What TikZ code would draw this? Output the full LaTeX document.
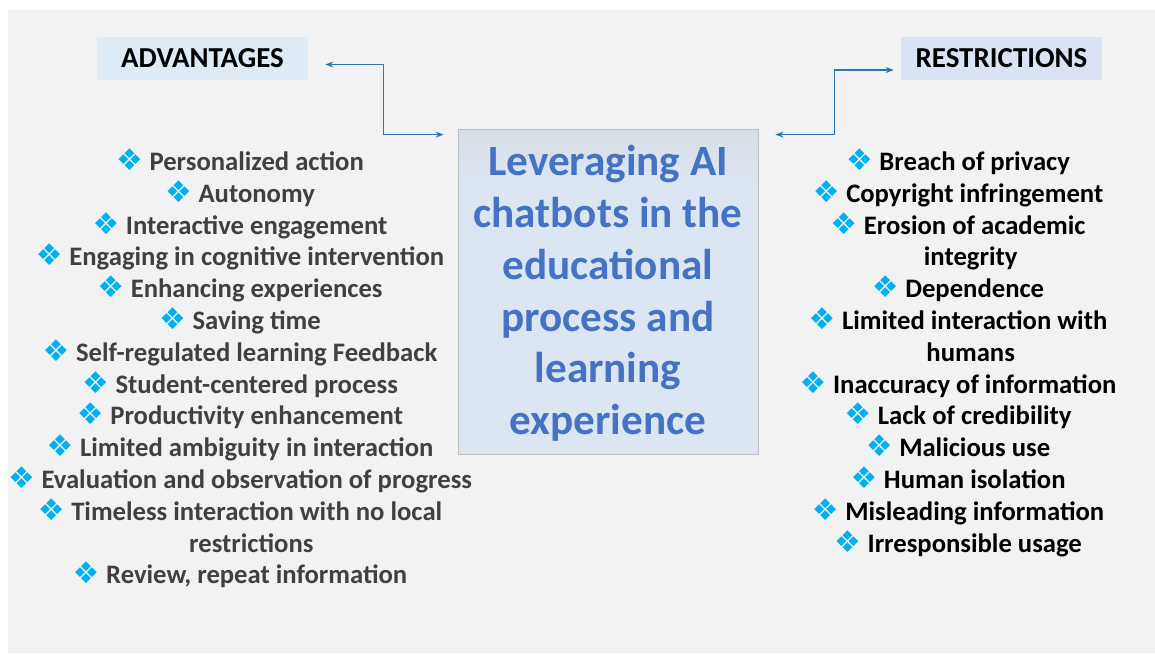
\documentclass[tikz,border=0pt]{standalone}
\usepackage{xcolor}
\usepackage{fontspec}
\setmainfont{Carlito}
\newfontfamily\dingfont{DejaVu Sans}
\usepackage{tikz}
\usetikzlibrary{positioning,arrows.meta}
\definecolor{canvas}{HTML}{F2F2F2}
\definecolor{linkblue}{HTML}{2E75B6}
\definecolor{titleblue}{HTML}{4472C4}
\definecolor{paleblue}{HTML}{DCE6F2}
\definecolor{headblue}{HTML}{DEEBF7}
\definecolor{headlilac}{HTML}{DAE3F3}
\definecolor{hubgray}{HTML}{C8C8C8}
\definecolor{hubedge}{HTML}{BFBFBF}
\definecolor{bullet}{HTML}{00B0F0}
\definecolor{darktext}{HTML}{404040}

% grey at the top fading into pale blue
\pgfdeclareverticalshading{hubshade}{100bp}{color(0bp)=(paleblue); color(66bp)=(paleblue); color(100bp)=(hubgray)}

\newcommand\bul{{\color{bullet}\dingfont\scalebox{1.12}{❖}}\hspace{0.25em}}

\begin{document}
\begin{tikzpicture}[
  x=0.75pt, y=-0.75pt,
  head/.style={inner sep=0pt, minimum height=32.25pt,
               font=\fontsize{21.7}{25}\selectfont\bfseries},
  list/.style={inner sep=0pt, align=center,
               font=\fontsize{20}{23.85}\selectfont\bfseries},
  link/.style={{Stealth[length=6pt,width=4.5pt]}-{Stealth[length=6pt,width=4.5pt]},
               line width=1.2pt, linkblue}
]
  \useasboundingbox (0,0) rectangle (1155,653);
  \fill[canvas] (8,10) rectangle (1155,653);

  % centre box
  \node[draw=hubedge, line width=0.6pt, shading=hubshade, minimum width=225pt,
        minimum height=243.75pt, inner sep=0pt] (hub) at (608,291.5) {};
  \node[text=titleblue, align=center, inner sep=0pt,
        font=\fontsize{32.4}{38.8}\selectfont\bfseries] (title) at ([yshift=-1.5]hub.center)
    {Leveraging AI\\ chatbots in the\\ educational\\ process and\\ learning\\ experience};

  % headings
  \node[head, fill=headblue, minimum width=158.25pt] (adv) at (202.5,58.5) {ADVANTAGES};
  \node[head, fill=headlilac, minimum width=150.75pt] (res) at (1001.5,58.5) {RESTRICTIONS};

  % elbow connectors
  \draw[link] ([shift={(17,6)}]adv.east) -| ([shift={(-74,6)}]hub.north west)
    -- ([shift={(-14,6)}]hub.north west);
  \draw[link] ([shift={(17,6)}]hub.north east) -- ([shift={(76,6)}]hub.north east)
    |- ([shift={(-7,11.5)}]res.west);

  % lists
  \node[list, text=darktext, anchor=north] (pros) at (240,148.5)
    {\bul Personalized action\\
     \bul Autonomy\\
     \bul Interactive engagement\\
     \bul Engaging in cognitive intervention\\
     \bul Enhancing experiences\\
     \bul Saving time\\
     \bul Self-regulated learning Feedback\\
     \bul Student-centered process\\
     \bul Productivity enhancement\\
     \bul Limited ambiguity in interaction\\
     \bul Evaluation and observation of progress\\
     \bul Timeless interaction with no local\\
     \hspace*{0.85em}restrictions\\
     \bul Review, repeat information};
  \node[list, text=black, anchor=north] (cons) at (958,148.5)
    {\bul Breach of privacy\\
     \bul Copyright infringement\\
     \bul Erosion of academic\\
     \hspace*{0.95em}integrity\\
     \bul Dependence\\
     \bul Limited interaction with\\
     \hspace*{0.95em}humans\\
     \bul Inaccuracy of information\\
     \bul Lack of credibility\\
     \bul Malicious use\\
     \bul Human isolation\\
     \bul Misleading information\\
     \bul Irresponsible usage};
\end{tikzpicture}
\end{document}
